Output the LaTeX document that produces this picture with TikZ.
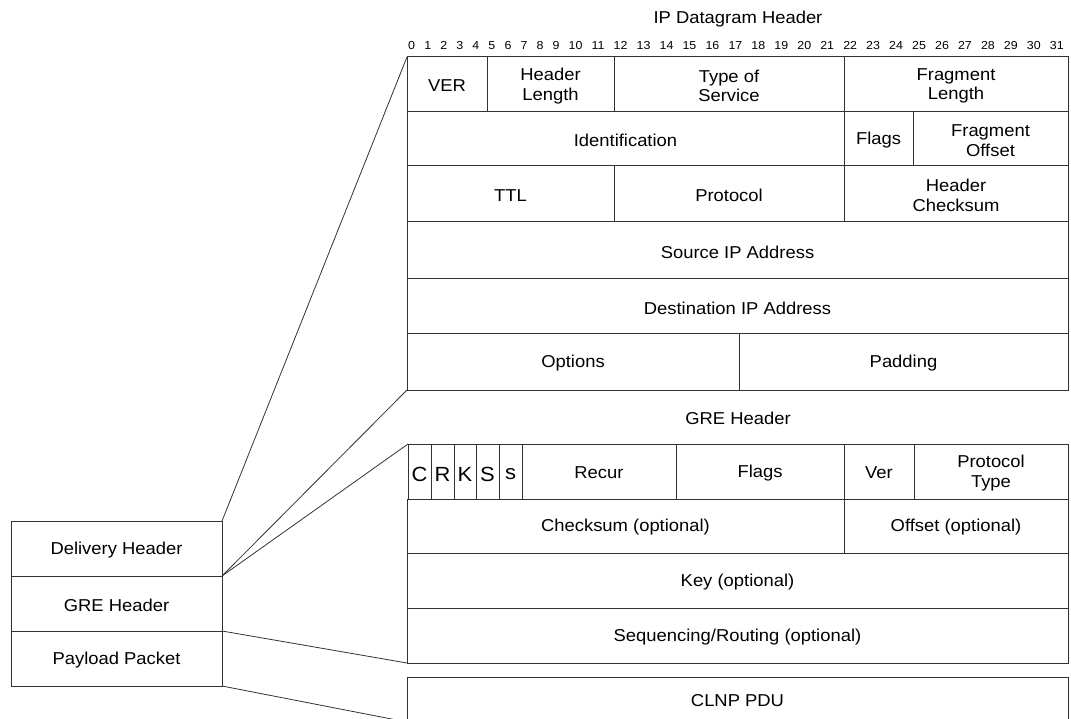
\documentclass[tikz,border=0pt]{standalone}
\usepackage{fontspec}
\setmainfont{Liberation Sans}[FakeStretch=1.07]
\begin{document}
\begin{tikzpicture}[x=1pt,y=-1pt,
  every node/.style={font=\fontsize{17.2}{19.5}\selectfont},
  cellbox/.style={draw=black!80, line width=1pt, rectangle, inner sep=0pt,
    outer sep=0pt},
  celltext/.style={inner sep=0pt, align=center, yshift=-1.5pt},
  bigbit/.style={font=\fontsize{20.5}{22}\selectfont, yshift=-1pt},
  title/.style={anchor=base, inner sep=0pt},
  bitnum/.style={font=\fontsize{11.6}{13}\selectfont, inner sep=0pt, anchor=base west},
  link/.style={draw=black!80, line width=0.8pt}]
\useasboundingbox (0,0) rectangle (1071,719);
\clip (0,0) rectangle (1071,719);

% cell: [text options] name, x1, y1, x2, y2, text
\newcommand\cell[7][]{\node[cellbox, minimum width={(#5-#3)*1pt},
  minimum height={(#6-#4)*1pt}] (#2) at ({(#3+#5)/2},{(#4+#6)/2}) {};
  \node[celltext,#1] (#2-t) at (#2.center) {#7};}

% encapsulated packet
\cell{deliv}{11}{521}{222}{576}{Delivery Header}
\cell{greh}{11}{576}{222}{631}{GRE Header}
\cell{payload}{11}{631}{222}{686}{Payload Packet}

% IP datagram header
\node[title] (iptitle) at (738,24) {IP Datagram Header};
\node[bitnum] (b0) at (408,50) {0};
\foreach \i [remember=\i as \j (initially 0)] in {1,...,31}
  \node[bitnum] (b\i) at ([xshift=8.75pt]b\j.base east) {\i};

\cell{ver}{407}{57}{487}{112}{VER}
\cell{hlen}{487}{57}{614}{112}{Header\\Length}
\cell{tos}{614}{57}{844}{112}{Type of\\Service}
\cell{flen}{844}{57}{1068}{112}{Fragment\\Length}
\cell{ident}{407}{112}{844}{166}{Identification}
\cell{ipflags}{844}{112}{913}{166}{Flags}
\cell{foff}{913}{112}{1068}{166}{Fragment\\Offset}
\cell{ttl}{407}{166}{614}{222}{TTL}
\cell{proto}{614}{166}{844}{222}{Protocol}
\cell{hcs}{844}{166}{1068}{222}{Header\\Checksum}
\cell{src}{407}{222}{1068}{279}{Source IP Address}
\cell{dst}{407}{279}{1068}{334}{Destination IP Address}
\cell{opts}{407}{334}{739}{390}{Options}
\cell{pad}{739}{334}{1068}{390}{Padding}

% GRE header
\node[title] (gretitle) at (738,424) {GRE Header};
\cell[bigbit]{gc}{408}{444}{431}{499}{C}
\cell[bigbit]{gr}{431}{444}{454}{499}{R}
\cell[bigbit]{gk}{454}{444}{476}{499}{K}
\cell[bigbit]{gs}{476}{444}{499}{499}{S}
\cell[bigbit]{gss}{499}{444}{522}{499}{s}
\cell{recur}{522}{444}{676}{499}{Recur}
\cell{gflags}{676}{444}{844}{499}{Flags}
\cell{gver}{844}{444}{914}{499}{Ver}
\cell{ptype}{914}{444}{1068}{499}{Protocol\\Type}
\cell{cks}{407}{499}{844}{553}{Checksum (optional)}
\cell{off}{844}{499}{1068}{553}{Offset (optional)}
\cell{key}{407}{553}{1068}{608}{Key (optional)}
\cell{seq}{407}{608}{1068}{663}{Sequencing/Routing (optional)}

% payload
\cell{clnp}{407}{677}{1068}{722}{CLNP PDU}

% expansion lines
\draw[link] (deliv.north east) -- (ver.north west);
\draw[link] (deliv.south east) -- (opts.south west);
\draw[link] (greh.north east) -- (gc.north west);
\draw[link] (greh.south east) -- (seq.south west);
\draw[link] (payload.south east) -- (clnp.south west);
\end{tikzpicture}
\end{document}
